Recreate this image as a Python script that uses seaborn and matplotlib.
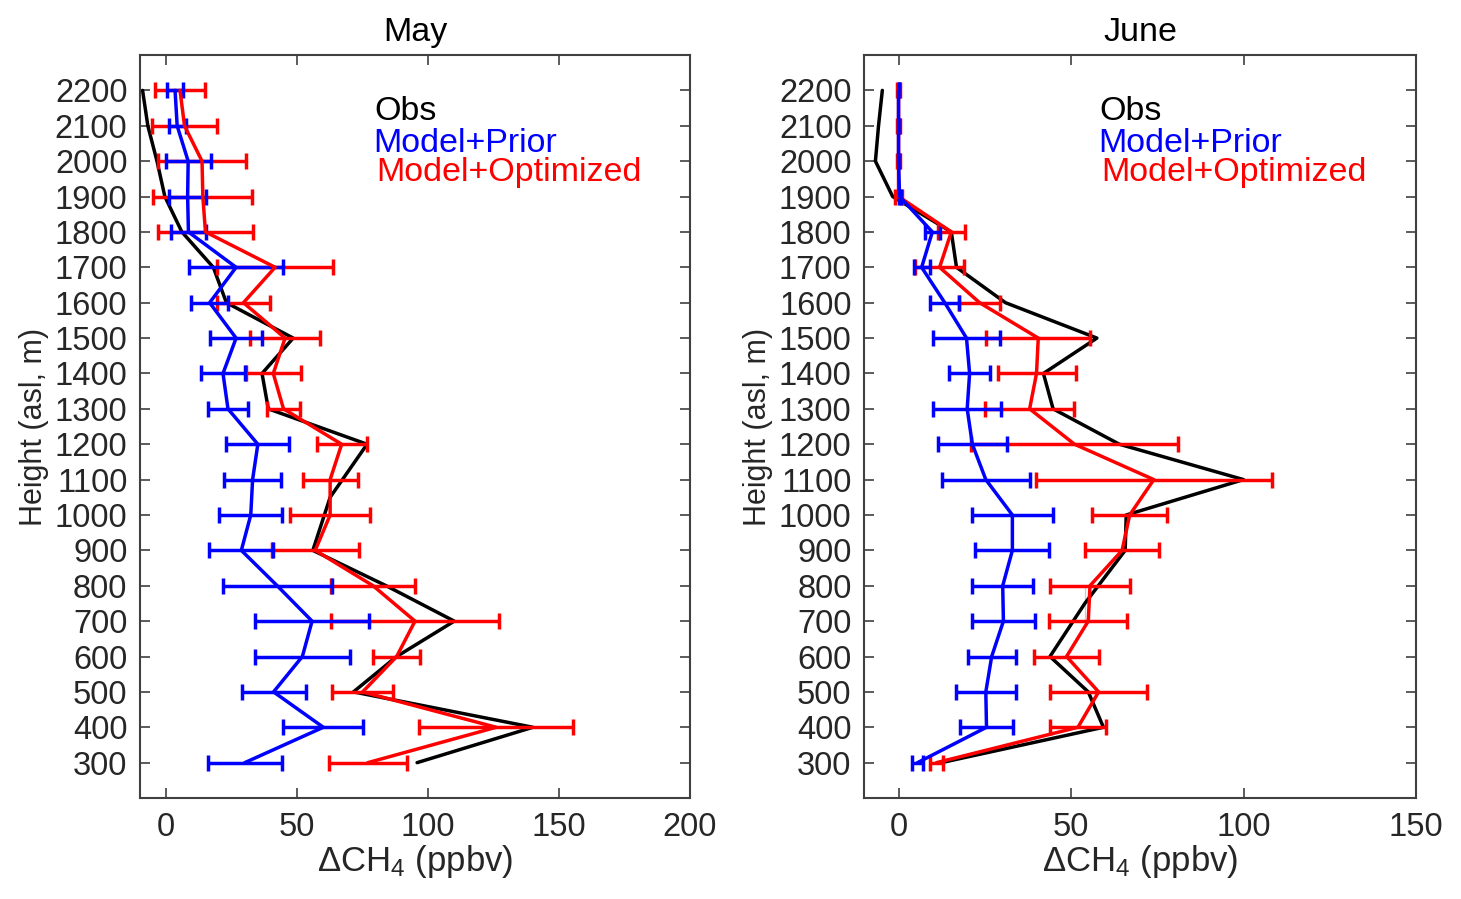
import numpy as np
import pandas as pd
import matplotlib
matplotlib.use('Agg')
import matplotlib.pyplot as plt
import seaborn as sns

# Heights (asl, m)
heights = [2200, 2100, 2000, 1900, 1800, 1700, 1600, 1500, 1400, 1300,
           1200, 1100, 1000, 900, 800, 700, 600, 500, 400, 300]

# May
may_obs = [-9, -7, -3.5, -0.5, 6, 18, 23, 48.5, 36.6, 39,
           76.7, 62.6, 62.6, 56, 84, 110, 88, 71.5, 140, 95.8]
may_prior = [3.4, 4.2, 8.4, 8.2, 8.5, 26.7, 16.6, 26.7, 21.7, 23.6,
             35, 33, 32.3, 28.7, 42.4, 55.7, 52, 41, 60, 30]
may_prior_err = [3, 3.3, 8.6, 7, 6.7, 18, 7, 10, 8.5, 7.8,
                 12, 11, 12, 12.2, 20.8, 21.8, 18, 12.2, 15.3, 14.2]
may_opt = [5.3, 7, 13.7, 14, 15, 41.6, 29.5, 45.4, 40.9, 44.8,
           67, 62.6, 62.6, 56.9, 79, 95, 88, 75, 126, 77]
may_opt_err = [9.6, 12.3, 16.8, 18.9, 18.3, 22, 10, 13.5, 10.5, 6.3,
               9.5, 10.5, 15.2, 16.6, 15.9, 32, 9, 11.6, 29.5, 15]

# June
jun_obs = [-4.7, -5.8, -6.7, -1.7, 15.3, 16.8, 31, 57.5, 42, 44.8,
           64, 100, 66, 65.7, 54, 54, 43.9, 55, 59.4, 12.4]
jun_prior = [0, 0, 0, 0.3, 9.8, 6.7, 13.4, 19.7, 20.6, 19.9,
             21.4, 25.3, 33, 33, 30.2, 30.4, 27, 25.3, 25.5, 5.5]
jun_prior_err = [0, 0, 0, 0.3, 2.1, 2.3, 4.2, 9.7, 5.9, 9.8,
                 9.9, 12.7, 11.7, 10.7, 8.9, 9.2, 7, 8.7, 7.6, 1.6]
jun_opt = [0, 0, 0, 0, 15.3, 11.9, 23.5, 40.5, 40, 38,
           51, 74, 67, 64.8, 55.5, 55, 48.7, 58, 52, 11]
jun_opt_err = [0.3, 0.3, 0.3, 1, 4, 7.2, 6, 15.1, 11.3, 12.9,
               30, 34.2, 10.8, 10.8, 11.5, 11.3, 9.4, 14.1, 8, 1.8]

sns.set_theme(style='ticks')
plt.rcParams['font.family'] = ['Liberation Sans', 'DejaVu Sans']
plt.rcParams['mathtext.fontset'] = 'custom'
plt.rcParams['mathtext.rm'] = 'Liberation Sans'
plt.rcParams['mathtext.it'] = 'Liberation Sans'
plt.rcParams['axes.edgecolor'] = '#404040'
plt.rcParams['xtick.color'] = '#404040'
plt.rcParams['ytick.color'] = '#404040'
plt.rcParams['xtick.labelcolor'] = '#262626'
plt.rcParams['ytick.labelcolor'] = '#262626'

fig = plt.figure(figsize=(14.61, 8.99), dpi=100)
ax1 = fig.add_axes([0.0958, 0.1123, 0.3765, 0.8265])
ax2 = fig.add_axes([0.5914, 0.1123, 0.3778, 0.8265])

panels = [
    (ax1, 'May', may_obs, may_prior, may_prior_err, may_opt, may_opt_err,
     (-10, 200), [0, 50, 100, 150, 200]),
    (ax2, 'June', jun_obs, jun_prior, jun_prior_err, jun_opt, jun_opt_err,
     (-10, 150), [0, 50, 100, 150]),
]

for ax, title, obs, prior, prior_err, opt, opt_err, xlim, xticks in panels:
    df = pd.DataFrame({'height': heights, 'obs': obs})
    sns.lineplot(data=df, x='obs', y='height', sort=False, color='black',
                 lw=2.5, ax=ax)
    ax.errorbar(opt, heights, xerr=opt_err, color='red', lw=2.5,
                elinewidth=2.5, capsize=6, capthick=2.5)
    ax.errorbar(prior, heights, xerr=prior_err, color='blue', lw=2.5,
                elinewidth=2.5, capsize=6, capthick=2.5)

    ax.set_xlim(*xlim)
    ax.set_ylim(200, 2300)
    ax.set_xticks(xticks)
    ax.set_yticks(heights)
    ax.tick_params(direction='in', top=True, right=True, labelsize=23.5,
                   length=7, width=1.2)
    ax.tick_params(axis='y', pad=9)
    ax.tick_params(axis='x', pad=10)
    for s in ax.spines.values():
        s.set_linewidth(1.5)
    ax.set_title(title, fontsize=24.5, pad=10, color='black')
    ax.set_xlabel(r'$\Delta$CH$_{4}$ (ppbv)', fontsize=25, labelpad=0,
                  color='#262626')
    ax.set_ylabel('Height (asl, m)', fontsize=22, color='#262626', labelpad=4)

    ax.text(0.426, 0.9125, 'Obs', color='black', fontsize=24.5,
            transform=ax.transAxes, va='baseline')
    ax.text(0.424, 0.869, 'Model+Prior', color='blue', fontsize=24.5,
            transform=ax.transAxes, va='baseline')
    ax.text(0.430, 0.830, 'Model+Optimized', color='red', fontsize=24.5,
            transform=ax.transAxes, va='baseline')

plt.savefig('out.png', dpi=100)
